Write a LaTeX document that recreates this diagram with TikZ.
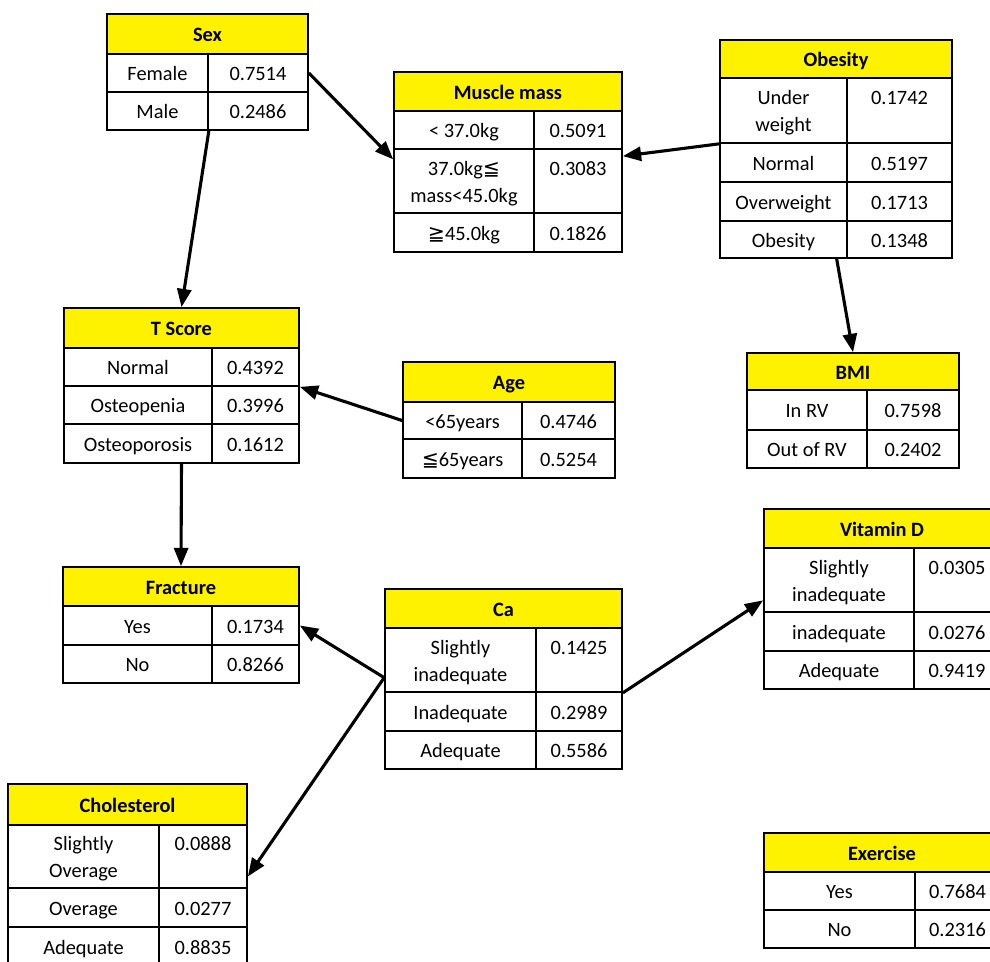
\documentclass[tikz,border=0pt]{standalone}
\usepackage{fontspec}
\setmainfont{Carlito}
\newfontfamily\symfont{DejaVu Sans}
\usetikzlibrary{arrows.meta}

\newcommand{\lsym}{{\symfont ≦}}
\newcommand{\gsym}{{\symfont ≧}}
\newcommand{\tabfont}{\fontsize{14.5}{19}\selectfont}
\newcommand{\cellstrut}{\rule[-4pt]{0pt}{19pt}}

% one box of a table: style, name, x1, y1, x2, y2, text
\newcommand{\tabbox}[7]{\node[#1, minimum width={(#5-#3)*0.025cm}, minimum height={(#6-#4)*0.025cm}]
  (#2) at ({(#3+#5)/2},{(#4+#6)/2}) {\cellstrut#7\cellstrut};}
% header of a table: name, x1, y1, x2, y2, title
\newcommand{\tabhead}[6]{\tabbox{head}{#1}{#2}{#3}{#4}{#5}{#6}}
% one row of a table: name, x1, xm, x2, y1, y2, label, value
\newcommand{\tabrow}[8]{%
  \tabbox{cell}{#1-l}{#2}{#5}{#3}{#6}{#7}
  \tabbox{cell}{#1-v}{#3}{#5}{#4}{#6}{#8}}

\tikzset{
  head/.style={draw, fill=yellow, inner sep=0pt, line width=1.2pt, font=\tabfont\bfseries},
  cell/.style={draw, fill=white, inner sep=0pt, line width=1.2pt, align=center, font=\tabfont},
  arr/.style={line width=2.2pt, -{Triangle[length=13pt,width=10pt]}}
}

\begin{document}
\begin{tikzpicture}[x=0.025cm, y=-0.025cm]
  \useasboundingbox (0,0) rectangle (990,961);

  % Sex
  \tabhead{sex}{107}{14}{308}{54}{Sex}
  \tabrow{sex1}{107}{208}{308}{54}{92}{Female}{0.7514}
  \tabrow{sex2}{107}{208}{308}{92}{130}{Male}{0.2486}

  % Muscle mass
  \tabhead{mm}{394}{72}{622}{111}{Muscle mass}
  \tabrow{mm1}{394}{534}{622}{111}{149}{< 37.0kg}{0.5091}
  \tabrow{mm2}{394}{534}{622}{149}{213}{37.0kg\lsym\\mass<45.0kg}{0.3083\\}
  \tabrow{mm3}{394}{534}{622}{213}{252}{\gsym45.0kg}{0.1826}

  % Obesity
  \tabhead{ob}{720}{40}{952}{78}{Obesity}
  \tabrow{ob1}{720}{847}{952}{78}{143}{Under\\weight}{0.1742\\}
  \tabrow{ob2}{720}{847}{952}{143}{182}{Normal}{0.5197}
  \tabrow{ob3}{720}{847}{952}{182}{221}{Overweight}{0.1713}
  \tabrow{ob4}{720}{847}{952}{221}{258}{Obesity}{0.1348}

  % T Score
  \tabhead{ts}{64}{308}{299}{348}{T Score}
  \tabrow{ts1}{64}{212}{299}{348}{386}{Normal}{0.4392}
  \tabrow{ts2}{64}{212}{299}{386}{424}{Osteopenia}{0.3996}
  \tabrow{ts3}{64}{212}{299}{424}{463}{Osteoporosis}{0.1612}

  % Age
  \tabhead{age}{403}{362}{615}{402}{Age}
  \tabrow{age1}{403}{522}{615}{402}{439}{<65years}{0.4746}
  \tabrow{age2}{403}{522}{615}{439}{478}{\lsym65years}{0.5254}

  % BMI
  \tabhead{bmi}{747}{353}{959}{390}{BMI}
  \tabrow{bmi1}{747}{867}{959}{390}{430}{In RV}{0.7598}
  \tabrow{bmi2}{747}{867}{959}{430}{468}{Out of RV}{0.2402}

  % Vitamin D
  \tabhead{vd}{764}{509}{1000}{548}{Vitamin D}
  \tabrow{vd1}{764}{914}{1000}{548}{612}{Slightly\\inadequate}{0.0305\\}
  \tabrow{vd2}{764}{914}{1000}{612}{651}{inadequate}{0.0276}
  \tabrow{vd3}{764}{914}{1000}{651}{689}{Adequate}{0.9419}

  % Ca
  \tabhead{ca}{385}{589}{622}{628}{Ca}
  \tabrow{ca1}{385}{536}{622}{628}{692}{Slightly\\inadequate}{0.1425\\}
  \tabrow{ca2}{385}{536}{622}{692}{731}{Inadequate}{0.2989}
  \tabrow{ca3}{385}{536}{622}{731}{769}{Adequate}{0.5586}

  % Fracture
  \tabhead{fr}{63}{567}{299}{606}{Fracture}
  \tabrow{fr1}{63}{212}{299}{606}{645}{Yes}{0.1734}
  \tabrow{fr2}{63}{212}{299}{645}{683}{No}{0.8266}

  % Cholesterol
  \tabhead{ch}{8}{784}{247}{825}{Cholesterol}
  \tabrow{ch1}{8}{159}{247}{825}{888}{Slightly\\Overage}{0.0888\\}
  \tabrow{ch2}{8}{159}{247}{888}{927}{Overage}{0.0277}
  \tabrow{ch3}{8}{159}{247}{927}{966}{Adequate}{0.8835}

  % Exercise
  \tabhead{ex}{764}{833}{1000}{872}{Exercise}
  \tabrow{ex1}{764}{915}{1000}{872}{910}{Yes}{0.7684}
  \tabrow{ex2}{764}{915}{1000}{910}{948}{No}{0.2316}

  % links
  \draw[arr] (sex1-v.east) -- (mm2-l.163);
  \draw[arr] (sex2-l.south east) -- (ts.north);
  \draw[arr] (ob1-l.south west) -- (mm2-v.29);
  \draw[arr] (ob4-l.-20) -- (bmi.north);
  \draw[arr] (age1-l.west) -- (ts1-v.south east);
  \draw[arr] (ts3-l.south -| ts.south) -- (fr.north);
  \draw[arr] (ca1-l.193) -- (fr1-v.east);
  \draw[arr] (ca1-l.193) -- (ch1-v.-24);
  \draw[arr] (ca1-v.south east) -- (vd1-l.195);
\end{tikzpicture}
\end{document}
